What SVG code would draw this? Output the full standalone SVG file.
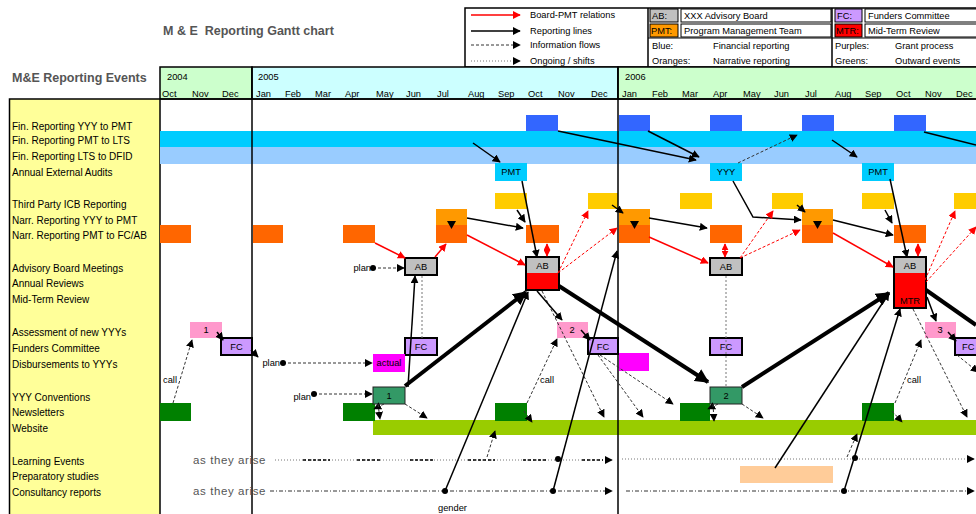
<svg xmlns="http://www.w3.org/2000/svg" width="976" height="514" viewBox="0 0 976 514">
<defs>
<style>
text{font-family:"Liberation Sans",Arial,sans-serif;font-size:9.3px;fill:#000}
.ttl{font-size:12.5px;font-weight:bold;fill:#555}
.lbl{font-size:10px}
.mid{text-anchor:middle}
.end{text-anchor:end}
.arise{font-size:11.5px;fill:#555;letter-spacing:0.6px}
.box{stroke:#000;stroke-width:2}
.rep{stroke:#000;stroke-width:1.5;fill:none;marker-end:url(#ah)}
.thick{stroke:#000;stroke-width:4;fill:none;marker-end:url(#ahb)}
.board{stroke:#f00;stroke-width:1.5;fill:none;marker-end:url(#ahr)}
.board2{stroke:#f00;stroke-width:1.5;fill:none;marker-start:url(#ahr2);marker-end:url(#ahr2)}
.bdash{stroke:#f00;stroke-width:1;stroke-dasharray:3 2;fill:none;marker-end:url(#ahr)}
.info{stroke:#333;stroke-width:1;stroke-dasharray:3 2;fill:none;marker-end:url(#ah)}
.infon{stroke:#777;stroke-width:1;stroke-dasharray:2 2;fill:none}
.ong{stroke:#777;stroke-width:1;stroke-dasharray:1 2;fill:none}
.ongd{stroke:#000;stroke-width:1.5;stroke-dasharray:3 2;fill:none}
.grid{stroke:#000;stroke-width:1.5}
</style>
<marker id="ah" viewBox="0 0 10 10" refX="9" refY="5" markerWidth="8" markerHeight="8" markerUnits="userSpaceOnUse" orient="auto"><path d="M0,0L10,5L0,10z" fill="#000"/></marker>
<marker id="ahb" viewBox="0 0 10 10" refX="9" refY="5" markerWidth="14" markerHeight="14" markerUnits="userSpaceOnUse" orient="auto"><path d="M0,0L10,5L0,10z" fill="#000"/></marker>
<marker id="ahr" viewBox="0 0 10 10" refX="9" refY="5" markerWidth="8" markerHeight="8" markerUnits="userSpaceOnUse" orient="auto"><path d="M0,0L10,5L0,10z" fill="#f00"/></marker>
<marker id="ahr2" viewBox="0 0 10 10" refX="9" refY="5" markerWidth="7" markerHeight="7" markerUnits="userSpaceOnUse" orient="auto-start-reverse"><path d="M0,0L10,5L0,10z" fill="#f00"/></marker>
</defs>

<rect width="976" height="514" fill="#fff"/>

<!-- titles -->
<text class="ttl" x="163" y="35" xml:space="preserve">M &amp; E  Reporting Gantt chart</text>
<text class="ttl" x="12" y="82">M&amp;E Reporting Events</text>

<!-- legend -->
<g id="legend">
  <rect x="465" y="8" width="515" height="59" fill="#fff" stroke="#000" stroke-width="1.5"/>
  <line x1="648" y1="8" x2="648" y2="67" stroke="#000" stroke-width="1.5"/>
  <line x1="832" y1="8" x2="832" y2="67" stroke="#000" stroke-width="1.5"/>
  <line x1="648" y1="38" x2="976" y2="38" stroke="#000"/>
  <line x1="471" y1="15" x2="520" y2="15" class="board"/>
  <line x1="471" y1="31" x2="520" y2="31" class="rep"/>
  <line x1="471" y1="45" x2="520" y2="45" class="info" stroke="#888"/>
  <line x1="471" y1="61" x2="520" y2="61" class="ong" marker-end="url(#ah)"/>
  <text x="530" y="18">Board-PMT relations</text>
  <text x="530" y="34">Reporting lines</text>
  <text x="530" y="48">Information flows</text>
  <text x="530" y="64">Ongoing / shifts</text>
  <rect x="650" y="9" width="28" height="13" fill="#c0c0c0" stroke="#000"/>
  <rect x="681" y="9" width="150" height="13" fill="#fff" stroke="#000"/>
  <rect x="650" y="24" width="28" height="13" fill="#ff9900" stroke="#000"/>
  <rect x="681" y="24" width="150" height="13" fill="#fff" stroke="#000"/>
  <text x="652" y="19">AB:</text>
  <text x="684" y="19">XXX Advisory Board</text>
  <text x="651" y="34">PMT:</text>
  <text x="684" y="34">Program Management Team</text>
  <text x="652" y="49">Blue:</text>
  <text x="713" y="49">Financial reporting</text>
  <text x="652" y="64">Oranges:</text>
  <text x="713" y="64">Narrative reporting</text>
  <rect x="835" y="9" width="27" height="13" fill="#cc99ff" stroke="#000"/>
  <rect x="865" y="9" width="120" height="13" fill="#fff" stroke="#000"/>
  <rect x="835" y="24" width="27" height="13" fill="#f00" stroke="#000"/>
  <rect x="865" y="24" width="120" height="13" fill="#fff" stroke="#000"/>
  <text x="837" y="19">FC:</text>
  <text x="868" y="19">Funders Committee</text>
  <text x="836" y="34">MTR:</text>
  <text x="868" y="34">Mid-Term Review</text>
  <text x="835" y="49">Purples:</text>
  <text x="895" y="49">Grant process</text>
  <text x="835" y="64">Greens:</text>
  <text x="895" y="64">Outward events</text>
</g>

<!-- timeline header -->
<g id="header">
  <rect x="160" y="67" width="92" height="32" fill="#ccffcc" stroke="#000" stroke-width="1.5"/>
  <rect x="252" y="67" width="366" height="32" fill="#ccffff" stroke="#000" stroke-width="1.5"/>
  <rect x="618" y="67" width="366" height="32" fill="#ccffcc" stroke="#000" stroke-width="1.5"/>
  <text x="167" y="80">2004</text>
  <text x="258" y="80">2005</text>
  <text x="625" y="80">2006</text>
  <text y="96.5">
    <tspan x="162">Oct</tspan><tspan x="192">Nov</tspan><tspan x="222">Dec</tspan>
    <tspan x="256">Jan</tspan><tspan x="285">Feb</tspan><tspan x="315">Mar</tspan><tspan x="345">Apr</tspan>
    <tspan x="376">May</tspan><tspan x="406">Jun</tspan><tspan x="437">Jul</tspan><tspan x="468">Aug</tspan>
    <tspan x="498">Sep</tspan><tspan x="528">Oct</tspan><tspan x="558">Nov</tspan><tspan x="591">Dec</tspan>
    <tspan x="622">Jan</tspan><tspan x="652">Feb</tspan><tspan x="682">Mar</tspan><tspan x="713">Apr</tspan>
    <tspan x="743">May</tspan><tspan x="774">Jun</tspan><tspan x="805">Jul</tspan><tspan x="835">Aug</tspan>
    <tspan x="865">Sep</tspan><tspan x="896">Oct</tspan><tspan x="925">Nov</tspan><tspan x="956">Dec</tspan>
  </text>
</g>

<!-- event list -->
<g id="event-list">
  <rect x="9.5" y="99" width="150.5" height="420" fill="#ffff99" stroke="#000" stroke-width="1.5"/>
  <g class="lbl">
  <text class="lbl" x="12" y="130">Fin. Reporting YYY to PMT</text>
  <text class="lbl" x="12" y="143.5">Fin. Reporting PMT to LTS</text>
  <text class="lbl" x="12" y="159.5">Fin. Reporting LTS to DFID</text>
  <text class="lbl" x="12" y="175.5">Annual External Audits</text>
  <text class="lbl" x="12" y="207.5">Third Party ICB Reporting</text>
  <text class="lbl" x="12" y="223.5">Narr. Reporting YYY to PMT</text>
  <text class="lbl" x="12" y="238.5">Narr. Reporting PMT to FC/AB</text>
  <text class="lbl" x="12" y="271.5">Advisory Board Meetings</text>
  <text class="lbl" x="12" y="286.5">Annual Reviews</text>
  <text class="lbl" x="12" y="302.5">Mid-Term Review</text>
  <text class="lbl" x="12" y="335.5">Assessment of new YYYs</text>
  <text class="lbl" x="12" y="351.5">Funders Committee</text>
  <text class="lbl" x="12" y="367.5">Disbursements to YYYs</text>
  <text class="lbl" x="12" y="400.5">YYY Conventions</text>
  <text class="lbl" x="12" y="415.5">Newsletters</text>
  <text class="lbl" x="12" y="431.5">Website</text>
  <text class="lbl" x="12" y="464.5">Learning Events</text>
  <text class="lbl" x="12" y="479.5">Preparatory studies</text>
  <text class="lbl" x="12" y="495.5">Consultancy reports</text>
  </g>
</g>

<line x1="160" y1="99" x2="976" y2="99" class="grid"/>

<!-- financial reporting -->
<g id="bar-pmt-lts"><rect x="160" y="131" width="816" height="16" fill="#00ccff"/></g>
<g id="bar-lts-dfid"><rect x="160" y="147" width="816" height="17" fill="#99ccff"/></g>
<g id="fin-yyy" fill="#3366ff">
  <rect x="526" y="115" width="32" height="16"/>
  <rect x="619" y="115" width="31" height="16"/>
  <rect x="710" y="115" width="32" height="16"/>
  <rect x="802" y="115" width="32" height="16"/>
  <rect x="894" y="115" width="32" height="16"/>
</g>
<g id="audit-pmt-2005"><rect x="495" y="163" width="32" height="18" fill="#00ccff"/><text class="mid" x="511" y="175">PMT</text></g>
<g id="audit-yyy-2006"><rect x="710" y="163" width="32" height="18" fill="#00ccff"/><text class="mid" x="726" y="175">YYY</text></g>
<g id="audit-pmt-2006"><rect x="862" y="163" width="32" height="18" fill="#00ccff"/><text class="mid" x="878" y="175">PMT</text></g>

<!-- narrative reporting -->
<g id="icb" fill="#ffcc00">
  <rect x="495" y="193" width="32" height="16"/>
  <rect x="588" y="193" width="30" height="16"/>
  <rect x="680" y="193" width="32" height="16"/>
  <rect x="772" y="193" width="31" height="16"/>
  <rect x="862" y="193" width="32" height="16"/>
  <rect x="954" y="193" width="22" height="16"/>
</g>
<g id="narr-yyy" fill="#ff9900">
  <rect x="436" y="209" width="31" height="16"/>
  <rect x="619" y="209" width="31" height="16"/>
  <rect x="802" y="209" width="31" height="16"/>
</g>
<g id="narr-pmt" fill="#ff6600">
  <rect x="160" y="225" width="31" height="18"/>
  <rect x="253" y="225" width="30" height="18"/>
  <rect x="343" y="225" width="32" height="18"/>
  <rect x="436" y="225" width="31" height="18"/>
  <rect x="526" y="225" width="33" height="18"/>
  <rect x="619" y="225" width="31" height="18"/>
  <rect x="710" y="225" width="32" height="18"/>
  <rect x="802" y="225" width="31" height="18"/>
  <rect x="894" y="225" width="32" height="18"/>
</g>
<g id="narr-handover" fill="#000">
  <path d="M447,221L456,221L451.5,229z"/>
  <path d="M630,221L639,221L634.5,229z"/>
  <path d="M813,221L822,221L817.5,229z"/>
</g>

<!-- board meetings and reviews -->
<g id="ab-jun-2005"><rect class="box" x="405" y="258" width="32" height="17" fill="#c0c0c0"/><text class="mid" x="421" y="270">AB</text></g>
<g id="ab-oct-2005">
  <rect x="526" y="257" width="33" height="16" fill="#c0c0c0"/>
  <rect x="526" y="273" width="33" height="17" fill="#f00"/>
  <rect class="box" x="526" y="257" width="33" height="33" fill="none"/>
  <text class="mid" x="542.5" y="269">AB</text>
</g>
<g id="ab-apr-2006"><rect class="box" x="710" y="258" width="32" height="17" fill="#c0c0c0"/><text class="mid" x="726" y="270">AB</text></g>
<g id="ab-mtr-oct-2006">
  <rect x="894" y="257" width="32" height="16" fill="#c0c0c0"/>
  <rect x="894" y="273" width="32" height="35" fill="#f00"/>
  <rect class="box" x="894" y="257" width="32" height="51" fill="none"/>
  <text class="mid" x="910" y="269">AB</text>
  <text class="mid" x="910" y="304">MTR</text>
</g>

<!-- grant process -->
<g id="assess-1"><rect x="190" y="322" width="32" height="16" fill="#ff99cc"/><text class="mid" x="206" y="333">1</text></g>
<g id="assess-2"><rect x="557" y="322" width="31" height="16" fill="#ff99cc"/><text class="mid" x="572" y="333">2</text></g>
<g id="assess-3"><rect x="925" y="322" width="31" height="16" fill="#ff99cc"/><text class="mid" x="940" y="333">3</text></g>
<g id="fc-dec-2004"><rect class="box" x="221" y="338" width="31" height="17" fill="#cc99ff"/><text class="mid" x="236.5" y="350">FC</text></g>
<g id="fc-jun-2005"><rect class="box" x="405" y="338" width="32" height="17" fill="#cc99ff"/><text class="mid" x="421" y="350">FC</text></g>
<g id="fc-dec-2005"><rect class="box" x="588" y="338" width="30" height="16" fill="#cc99ff"/><text class="mid" x="603" y="350">FC</text></g>
<g id="fc-apr-2006"><rect class="box" x="710" y="338" width="32" height="17" fill="#cc99ff"/><text class="mid" x="726" y="350">FC</text></g>
<g id="fc-dec-2006"><rect class="box" x="955" y="338" width="25" height="17" fill="#cc99ff"/><text x="962" y="350">FC</text></g>
<g id="disb-may-2005"><rect x="373" y="354" width="32" height="18" fill="#ff00ff"/><text class="mid" x="389" y="366">actual</text></g>
<g id="disb-jan-2006"><rect x="619" y="353" width="30" height="18" fill="#ff00ff"/></g>

<!-- outward events -->
<g id="website"><rect x="373" y="420" width="603" height="15" fill="#99cc00"/></g>
<g id="newsletters" fill="#008000">
  <rect x="160" y="403" width="31" height="18"/>
  <rect x="343" y="403" width="32" height="18"/>
  <rect x="495" y="403" width="32" height="18"/>
  <rect x="680" y="403" width="30" height="18"/>
  <rect x="862" y="403" width="32" height="18"/>
</g>
<g id="convention-1"><rect x="373" y="387" width="32" height="17" fill="#339966" stroke="#222"/><text class="mid" x="389" y="399">1</text></g>
<g id="convention-2"><rect x="710" y="387" width="32" height="17" fill="#339966" stroke="#222"/><text class="mid" x="726" y="399">2</text></g>
<g id="prep-study"><rect x="740" y="466" width="93" height="17" fill="#ffcc99"/></g>

<!-- year dividers -->
<line x1="252" y1="67" x2="252" y2="514" class="grid"/>
<line x1="618" y1="67" x2="618" y2="514" class="grid"/>

<!-- side notes -->
<g id="notes">
  <text class="end" x="371" y="271">plan</text>
  <text class="end" x="280" y="366">plan</text>
  <text class="end" x="311" y="400">plan</text>
  <text x="163" y="383">call</text>
  <text x="540" y="383">call</text>
  <text x="907" y="383">call</text>
  <text x="438" y="511">gender</text>
  <text class="arise" x="193" y="464">as they arise</text>
  <text class="arise" x="193" y="495">as they arise</text>
</g>

<g id="connectors">
  <!-- ongoing / shifts -->
  <line class="ong" x1="275" y1="460" x2="612" y2="460" marker-end="url(#ah)"/>
  <line class="ong" x1="622" y1="459" x2="974" y2="459" marker-end="url(#ah)"/>
  <g class="ongd">
    <line x1="303" y1="460" x2="330" y2="460"/>
    <line x1="357" y1="460" x2="382" y2="460"/>
    <line x1="410" y1="460" x2="435" y2="460"/>
    <line x1="468" y1="460" x2="495" y2="460"/>
    <line x1="523" y1="460" x2="547" y2="460"/>
    <line x1="582" y1="460" x2="603" y2="460"/>
  </g>
  <line x1="270" y1="491" x2="612" y2="491" stroke="#333" stroke-dasharray="4 2 1 2" marker-end="url(#ah)"/>
  <line x1="626" y1="491" x2="974" y2="491" stroke="#333" stroke-dasharray="4 2 1 2" marker-end="url(#ah)"/>

  <!-- information flows -->
  <line class="info" x1="738" y1="163" x2="797" y2="135"/>
  <line class="info" x1="373" y1="268" x2="404" y2="268"/>
  <line class="info" x1="283" y1="363" x2="372" y2="363"/>
  <line class="info" x1="314" y1="394" x2="372" y2="394"/>
  <line class="info" x1="173" y1="403" x2="192" y2="340"/>
  <line class="info" x1="527" y1="403" x2="557" y2="339"/>
  <line class="info" x1="895" y1="403" x2="921" y2="340"/>
  <line class="infon" x1="422" y1="276" x2="422" y2="338"/>
  <line class="infon" x1="726" y1="276" x2="726" y2="387"/>
  <line class="info" x1="384" y1="404" x2="374" y2="409"/>
  <line class="info" x1="378" y1="404" x2="380" y2="419"/>
  <line class="info" x1="405" y1="404" x2="427" y2="418"/>
  <line class="info" x1="542" y1="291" x2="604" y2="417"/>
  <line class="info" x1="598" y1="355" x2="643" y2="417"/>
  <line class="info" x1="600" y1="355" x2="673" y2="404"/>
  <line class="info" x1="524" y1="411" x2="532" y2="422"/>
  <line class="info" x1="487" y1="457" x2="495" y2="431"/>
  <line class="info" x1="718" y1="404" x2="708" y2="409"/>
  <line class="info" x1="713" y1="404" x2="714" y2="421"/>
  <line class="info" x1="742" y1="404" x2="763" y2="418"/>
  <line class="info" x1="892" y1="411" x2="902" y2="422"/>
  <line class="info" x1="847" y1="457" x2="857" y2="434"/>
  <line class="info" x1="913" y1="309" x2="967" y2="417"/>
  <line class="info" x1="957" y1="355" x2="978" y2="372"/>

  <!-- reporting lines -->
  <line class="rep" x1="473" y1="143" x2="500" y2="162"/>
  <line class="rep" x1="558" y1="131" x2="696" y2="160"/>
  <line class="rep" x1="648" y1="131" x2="699" y2="157"/>
  <line class="rep" x1="832" y1="140" x2="857" y2="157"/>
  <line stroke="#000" stroke-width="1.5" x1="924" y1="132" x2="976" y2="145"/>
  <line class="rep" x1="522" y1="181" x2="537" y2="257"/>
  <line class="rep" x1="517" y1="210" x2="525" y2="222"/>
  <line class="rep" x1="467" y1="218" x2="523" y2="228"/>
  <line class="rep" x1="612" y1="205" x2="623" y2="213"/>
  <line class="rep" x1="649" y1="218" x2="707" y2="228"/>
  <polyline class="rep" points="733,181 753,217 801,220"/>
  <line class="rep" x1="797" y1="205" x2="805" y2="212"/>
  <line class="rep" x1="833" y1="220" x2="893" y2="235"/>
  <line class="rep" x1="885" y1="210" x2="892" y2="223"/>
  <line class="rep" x1="890" y1="179" x2="907" y2="257"/>
  <line class="rep" x1="408" y1="387" x2="415" y2="276"/>
  <line class="rep" x1="217" y1="332" x2="223" y2="340"/>
  <line class="rep" x1="581" y1="330" x2="590" y2="340"/>
  <line class="rep" x1="948" y1="332" x2="956" y2="341"/>
  <line class="rep" x1="251" y1="350" x2="258" y2="357"/>
  <line class="rep" x1="537" y1="291" x2="562" y2="320"/>
  <line class="rep" x1="927" y1="297" x2="936" y2="321"/>
  <line class="rep" x1="445" y1="491" x2="528" y2="292"/>
  <line class="rep" x1="553" y1="491" x2="617" y2="251"/>
  <line class="rep" x1="775" y1="468" x2="889" y2="293"/>
  <line class="rep" x1="844" y1="491" x2="900" y2="309"/>
  <g fill="#000">
    <circle cx="373" cy="268" r="3"/>
    <circle cx="283" cy="363" r="3"/>
    <circle cx="314" cy="394" r="3"/>
    <circle cx="445" cy="491" r="3"/>
    <circle cx="553" cy="491" r="3"/>
    <circle cx="844" cy="491" r="3"/>
    <circle cx="558" cy="459" r="3"/>
    <circle cx="855" cy="458" r="3"/>
  </g>

  <!-- reporting lines between board and conventions -->
  <line class="thick" x1="405" y1="386" x2="526" y2="292"/>
  <line class="thick" x1="559" y1="286" x2="708" y2="382"/>
  <line class="thick" x1="742" y1="387" x2="889" y2="293"/>
  <line stroke="#000" stroke-width="4" x1="926" y1="290" x2="976" y2="325"/>

  <!-- board-PMT relations -->
  <line class="board" x1="375" y1="243" x2="405" y2="258"/>
  <line class="board" x1="435" y1="257" x2="446" y2="244"/>
  <line class="board" x1="467" y1="235" x2="525" y2="265"/>
  <line class="board" x1="649" y1="237" x2="708" y2="263"/>
  <line class="board" x1="833" y1="233" x2="893" y2="267"/>
  <line class="board2" x1="547" y1="244" x2="547" y2="256"/>
  <line class="board2" x1="725" y1="244" x2="725" y2="257"/>
  <line class="board2" x1="918" y1="244" x2="918" y2="256"/>
  <line class="bdash" x1="558" y1="273" x2="588" y2="211"/>
  <line class="bdash" x1="558" y1="273" x2="617" y2="228"/>
  <line class="bdash" x1="740" y1="258" x2="773" y2="211"/>
  <line class="bdash" x1="740" y1="258" x2="800" y2="230"/>
  <line class="bdash" x1="925" y1="280" x2="955" y2="211"/>
  <line class="bdash" x1="926" y1="282" x2="976" y2="227"/>
</g>
</svg>
